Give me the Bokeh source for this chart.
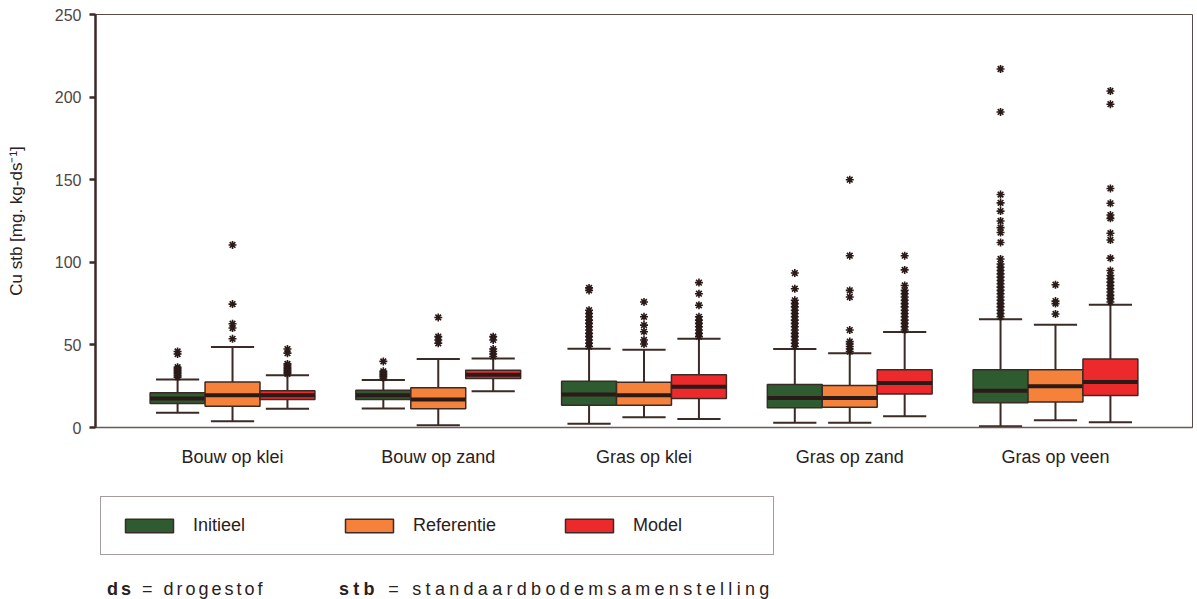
from bokeh.plotting import figure
from bokeh.models import Range1d, FixedTicker, Legend, LegendItem, Div, ColumnDataSource
from bokeh.layouts import column
from bokeh.embed import file_html
from bokeh.resources import INLINE

groups = ["Bouw op klei", "Bouw op zand", "Gras op klei", "Gras op zand", "Gras op veen"]
series = ["Initieel", "Referentie", "Model"]
colors = ["#2f5b30", "#f6813b", "#ec2a2c"]

# Initieel
init_low = [9.0, 11.5, 2.2, 2.8, 0.8]
init_q1 = [14.5, 16.9, 13.5, 11.9, 15.0]
init_med = [17.5, 19.5, 20.0, 17.9, 22.3]
init_q3 = [21.1, 22.5, 28.0, 26.0, 35.0]
init_high = [29.0, 28.7, 47.7, 47.5, 65.6]
init_out = [
    [30.5, 31.5, 32.5, 33.5, 34.5, 35.5, 36.5, 44.5, 46.0],
    [30.0, 31.0, 32.0, 33.0, 34.0, 40.0],
    [49, 51, 53, 55, 57, 59, 61, 63, 65, 67, 69, 71, 83, 84.5],
    [49, 51, 53, 55, 57, 59, 61, 63, 65, 67, 69, 71, 73, 75, 77, 84, 93.5],
    [67, 69, 71, 73, 75, 77, 79, 81, 83, 85, 87, 89, 91, 93, 95, 97, 99, 102,
     112, 118, 121, 125, 131, 136, 141, 191, 217],
]

# Referentie
ref_low = [3.8, 1.4, 6.2, 2.8, 4.4]
ref_q1 = [12.9, 11.3, 13.5, 12.3, 15.5]
ref_med = [19.5, 16.9, 19.5, 17.9, 25.0]
ref_q3 = [27.6, 24.0, 27.4, 25.4, 35.0]
ref_high = [48.7, 41.5, 47.0, 45.0, 62.2]
ref_out = [
    [53.7, 60.2, 62.8, 74.7, 110.5],
    [51.0, 53.0, 55.0, 66.6],
    [50.5, 53.0, 58.0, 62.0, 67.0, 76.0],
    [46.0, 47.5, 49.0, 50.5, 52.0, 59.0, 79.0, 83.0, 104.0, 150.0],
    [68.7, 75.0, 76.5, 86.4],
]

# Model
mod_low = [11.3, 22.0, 5.2, 6.8, 3.2]
mod_q1 = [16.9, 29.6, 17.5, 20.3, 19.3]
mod_med = [19.5, 32.0, 24.6, 27.0, 27.6]
mod_q3 = [22.3, 34.6, 32.0, 35.0, 41.5]
mod_high = [31.6, 41.7, 53.7, 57.8, 74.3]
mod_out = [
    [32.5, 33.5, 34.5, 35.5, 36.5, 37.5, 38.5, 45.0, 47.5],
    [43.0, 44.5, 46.0, 47.5, 53.0, 55.0],
    [55, 57, 59, 61, 63, 65, 67, 74, 81, 87.7],
    [59, 61, 63, 65, 67, 69, 71, 73, 75, 77, 79, 81, 83, 86, 95.4, 104],
    [76, 78, 80, 82, 84, 86, 88, 90, 92, 95, 102.5, 113.5, 117.6, 126.6,
     128.6, 135.7, 144.7, 195.7, 203.7],
]

y_ticks = [0, 50, 100, 150, 200, 250]

stats = [
    (init_low, init_q1, init_med, init_q3, init_high, init_out),
    (ref_low, ref_q1, ref_med, ref_q3, ref_high, ref_out),
    (mod_low, mod_q1, mod_med, mod_q3, mod_high, mod_out),
]

DARK = "#3b2a25"
FONT = "Liberation Sans"
W = 1197
bw = 0.267
cap = 0.21
offsets = [-bw, 0.0, bw]

p = figure(width=W, height=487, output_backend="svg", toolbar_location=None,
           x_range=Range1d(0.334, 5.666), y_range=Range1d(0, 250),
           min_border_left=95, min_border_right=5, min_border_top=14,
           min_border_bottom=60, background_fill_color="white",
           border_fill_color="white")
p.grid.visible = False
p.outline_line_color = "#5a4a45"
p.outline_line_width = 1

# legend strip below the chart (shares the series styling)
lg = figure(width=W, height=83, output_backend="svg", toolbar_location=None,
            x_range=Range1d(0.334, 5.666), y_range=Range1d(1000, 1001),
            x_axis_type=None, y_axis_type=None,
            min_border_left=95, min_border_right=5, min_border_top=0, min_border_bottom=0,
            background_fill_color="white", border_fill_color="white")
lg.grid.visible = False
lg.outline_line_color = None

legend_renderers = []
for k, (lo, q1, med, q3, hi, outs) in enumerate(stats):
    xs = [i + 1 + offsets[k] for i in range(len(groups))]
    src = ColumnDataSource(dict(
        x=xs, lo=lo, q1=q1, med=med, q3=q3, hi=hi,
        xl=[x - bw / 2 for x in xs], xr=[x + bw / 2 for x in xs],
        cl=[x - cap / 2 for x in xs], cr=[x + cap / 2 for x in xs],
    ))
    p.segment(x0="x", y0="q3", x1="x", y1="hi", source=src, line_color=DARK, line_width=2)
    p.segment(x0="x", y0="q1", x1="x", y1="lo", source=src, line_color=DARK, line_width=2)
    p.segment(x0="cl", y0="hi", x1="cr", y1="hi", source=src, line_color=DARK, line_width=2)
    p.segment(x0="cl", y0="lo", x1="cr", y1="lo", source=src, line_color=DARK, line_width=2)
    p.vbar(x="x", width=bw, bottom="q1", top="q3", source=src,
           fill_color=colors[k], line_color=DARK, line_width=1.5)
    p.segment(x0="xl", y0="med", x1="xr", y1="med", source=src,
              line_color="#2a1a18", line_width=4)
    ox, oy = [], []
    for i, vals in enumerate(outs):
        for v in vals:
            ox.append(i + 1 + offsets[k])
            oy.append(v)
    p.scatter(x=ox, y=oy, marker="asterisk", size=8, line_width=1.6, line_color="#2a1a18")
    # same boxes in the legend strip, hidden (only their legend swatch is shown)
    r = lg.vbar(x="x", width=bw, bottom="q1", top="q3", source=src,
                fill_color=colors[k], line_color=DARK, line_width=1.5)
    r.visible = False
    legend_renderers.append(r)

p.yaxis.ticker = FixedTicker(ticks=y_ticks)
p.yaxis.axis_line_width = 2.5
p.yaxis.axis_line_color = DARK
p.yaxis.major_tick_line_width = 2.5
p.yaxis.major_tick_line_color = DARK
p.yaxis.major_tick_out = 6
p.yaxis.major_tick_in = 0
p.yaxis.minor_tick_line_color = None
p.yaxis.major_label_text_font = FONT
p.yaxis.major_label_text_font_size = "16px"
p.yaxis.major_label_text_color = "#504545"
p.yaxis.major_label_standoff = 8
p.yaxis.axis_label = "Cu stb [mg. kg-ds\u207b\u00b9]"
p.yaxis.axis_label_text_font = FONT
p.yaxis.axis_label_text_font_size = "17px"
p.yaxis.axis_label_text_font_style = "normal"
p.yaxis.axis_label_text_color = "#2a2020"
p.yaxis.axis_label_standoff = 26

p.xaxis.ticker = FixedTicker(ticks=[1, 2, 3, 4, 5])
p.xaxis.major_label_overrides = {i + 1: g for i, g in enumerate(groups)}
p.xaxis.axis_line_color = "#6a5a55"
p.xaxis.axis_line_width = 1.5
p.xaxis.major_tick_line_color = None
p.xaxis.minor_tick_line_color = None
p.xaxis.major_tick_out = 0
p.xaxis.major_label_text_font = FONT
p.xaxis.major_label_text_font_size = "18px"
p.xaxis.major_label_text_color = "#2a2020"
p.xaxis.major_label_standoff = 19

legend = Legend(
    items=[LegendItem(label=s, renderers=[legend_renderers[k]]) for k, s in enumerate(series)],
    location=(5, 15), orientation="horizontal",
    glyph_width=60, glyph_height=17, label_height=17, label_width=122,
    label_standoff=14, spacing=24, padding=18, margin=0,
    label_text_font=FONT, label_text_font_size="18px", label_text_color="#2a2020",
    border_line_color="#4a3a35", border_line_width=1.5,
    background_fill_color="white", background_fill_alpha=1.0,
    inactive_fill_alpha=0.0, click_policy="none",
)
lg.add_layout(legend)

footer = Div(
    text=('<div style="padding-left:102px;font-family:\'Liberation Sans\',Arial,sans-serif;'
          'font-size:18px;color:#2a2020;line-height:29px;white-space:nowrap">'
          '<span style="display:inline-block;width:232px;letter-spacing:3px"><b>ds</b> = drogestof</span>'
          '<span style="letter-spacing:4.3px"><b>stb</b> = standaardbodemsamenstelling</span></div>'),
    width=W, height=29,
)

layout = column(p, lg, footer, spacing=0)
open("out.html", "w").write(file_html(layout, INLINE))
